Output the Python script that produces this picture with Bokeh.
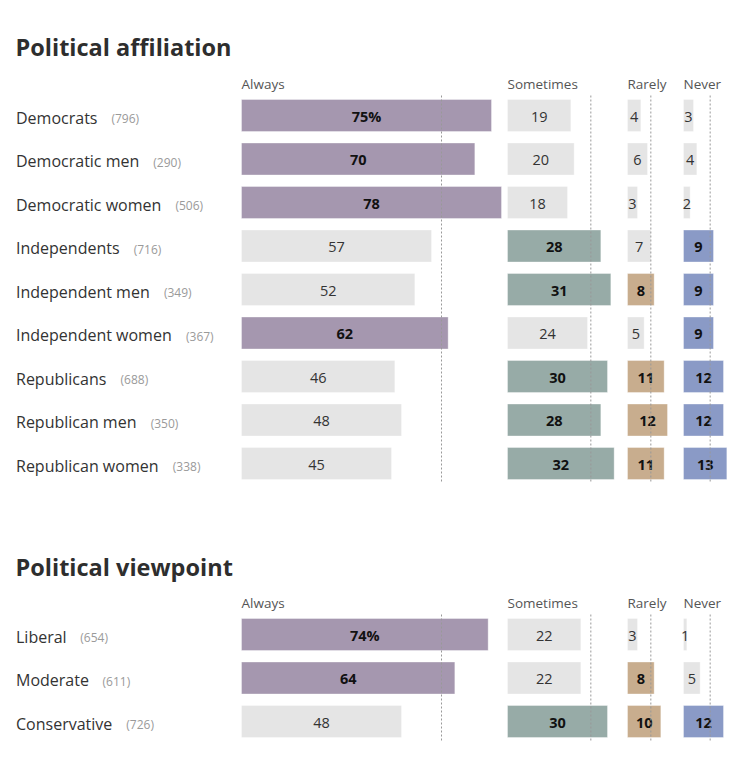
from bokeh.plotting import figure
from bokeh.models import Range1d, ColumnDataSource
from bokeh.embed import file_html
from bokeh.resources import INLINE
from bokeh.core.properties import value

# ---------------- data ----------------
columns = ["Always", "Sometimes", "Rarely", "Never"]
averages = [60, 25, 7, 8]
col_offsets = [0, 79.8, 115.8, 132.6]

aff_title = "Political affiliation"
aff_groups = ["Democrats", "Democratic men", "Democratic women", "Independents",
              "Independent men", "Independent women", "Republicans",
              "Republican men", "Republican women"]
aff_counts = [796, 290, 506, 716, 349, 367, 688, 350, 338]
aff_always = [75, 70, 78, 57, 52, 62, 46, 48, 45]
aff_sometimes = [19, 20, 18, 28, 31, 24, 30, 28, 32]
aff_rarely = [4, 6, 3, 7, 8, 5, 11, 12, 11]
aff_never = [3, 4, 2, 9, 9, 9, 12, 12, 13]

view_title = "Political viewpoint"
view_groups = ["Liberal", "Moderate", "Conservative"]
view_counts = [654, 611, 726]
view_always = [74, 64, 48]
view_sometimes = [22, 22, 30]
view_rarely = [3, 8, 10]
view_never = [1, 5, 12]

# ---------------- styling ----------------
FONT = "Open Sans"
HI_COLORS = ["#A597AF", "#97ABA7", "#C8AD8E", "#8A9AC6"]
GRAY = "#E5E5E5"
W, H = 739, 763
PX = 10 / 3.0            # pixels per percentage point
X0 = -241 / PX           # data x at left edge of plot
ROW_STEP = 43.5
BAR_H = 32

def px_to_x(px):
    return X0 + px / PX

# approximate Open Sans Regular advance widths (em)
_W = {' ': .26, 'a': .556, 'b': .613, 'c': .476, 'd': .613, 'e': .561, 'f': .339,
      'g': .548, 'h': .614, 'i': .253, 'j': .253, 'k': .525, 'l': .253, 'm': .93,
      'n': .614, 'o': .604, 'p': .613, 'q': .613, 'r': .408, 's': .477, 't': .353,
      'u': .614, 'v': .5, 'w': .778, 'x': .524, 'y': .5, 'z': .477,
      'C': .633, 'D': .725, 'I': .286, 'L': .5, 'M': .88, 'R': .627}

def text_w(s, size):
    return sum(_W.get(ch, .6) for ch in s) * size

p = figure(width=W, height=H, output_backend="svg", toolbar_location=None,
           x_range=Range1d(X0, X0 + W / PX), y_range=Range1d(H, 0),
           min_border=0, x_axis_location=None, y_axis_location=None,
           outline_line_color=None, background_fill_color="white",
           border_fill_color="white")
p.xgrid.visible = False
p.ygrid.visible = False

LABEL_SIZE = 16


def draw_section(title, groups, counts, series, title_y, header_y, row0):
    n = len(groups)
    ys = [row0 + i * ROW_STEP for i in range(n)]
    # title
    p.text(x=[px_to_x(15)], y=[title_y], text=[title], text_font=value(FONT),
           text_font_size="23.5px", text_font_style="bold", text_color="#2e2e2e",
           text_baseline="middle", text_align="left")
    # row labels and counts
    lab_x = px_to_x(15.5)
    p.text(x=[lab_x] * n, y=[y + 2 for y in ys], text=groups, text_font=value(FONT),
           text_font_size="%spx" % LABEL_SIZE, text_color="#333333",
           text_baseline="middle", text_align="left")
    cx = [lab_x + (text_w(g, LABEL_SIZE) + 14) / PX for g in groups]
    p.text(x=cx, y=[y + 3 for y in ys], text=["(%d)" % c for c in counts],
           text_font=value(FONT), text_font_size="12px", text_color="#9a9a9a",
           text_baseline="middle", text_align="left")
    for ci, (name, vals) in enumerate(zip(columns, series)):
        off = col_offsets[ci]
        avg = averages[ci]
        hi = [v > avg for v in vals]
        src = ColumnDataSource(dict(
            left=[off] * n, right=[off + v for v in vals],
            top=[y - BAR_H / 2 for y in ys], bottom=[y + BAR_H / 2 for y in ys],
            color=[HI_COLORS[ci] if h else GRAY for h in hi]))
        p.quad(left="left", right="right", top="top", bottom="bottom", source=src,
               fill_color="color", line_color="white", line_alpha=0.35, line_width=1)
        # header
        p.text(x=[off], y=[header_y], text=[name], text_font=value(FONT),
               text_font_size="13.5px", text_color="#555555", text_baseline="middle",
               text_align="left")
        # value labels
        labels = [str(v) for v in vals]
        if ci == 0:
            labels[0] = labels[0] + "%"
        for bold in (True, False):
            idx = [i for i in range(n) if hi[i] == bold]
            if not idx:
                continue
            p.text(x=[off + vals[i] / 2.0 for i in idx], y=[ys[i] + 1 for i in idx],
                   text=[labels[i] for i in idx], text_font=value(FONT),
                   text_font_size="14.5px",
                   text_font_style="bold" if bold else "normal",
                   text_color="#111111" if bold else "#333333",
                   text_baseline="middle", text_align="center")
        # average line
        p.segment(x0=[off + avg], y0=[ys[0] - 20], x1=[off + avg], y1=[ys[-1] + 20],
                  line_color="#999999", line_width=1, line_dash="2 2")


draw_section(aff_title, aff_groups, aff_counts,
             [aff_always, aff_sometimes, aff_rarely, aff_never], 46, 83, 115)
draw_section(view_title, view_groups, view_counts,
             [view_always, view_sometimes, view_rarely, view_never], 566, 602, 634)

open("out.html", "w").write(file_html(p, INLINE))
